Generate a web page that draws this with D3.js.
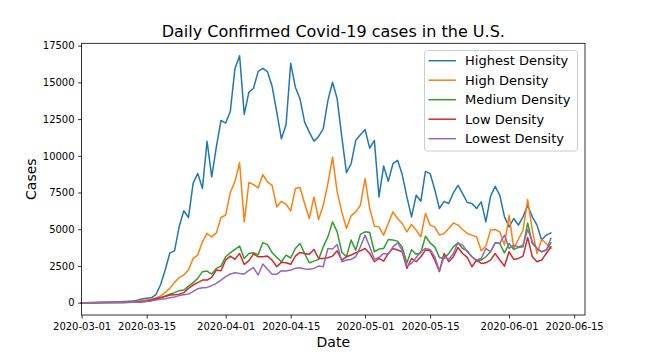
<!DOCTYPE html>
<html>
<head>
<meta charset="utf-8">
<script src="https://cdn.jsdelivr.net/npm/d3@7"></script>
<style>
  body { margin: 0; background: #fff; }
  svg { font-family: 'DejaVu Sans', sans-serif; display: block; }
</style>
</head>
<body>
<div id="chart"></div>
<script>
// daily values from 2020-03-01 to 2020-06-10
const startDate = '2020-03-01';
const endDate = '2020-06-11';
const xLimits = ['2020-03-01', '2020-06-17T08:00:00Z'];
const tickDates = ['2020-03-01', '2020-03-15', '2020-04-01', '2020-04-15', '2020-05-01', '2020-05-15', '2020-06-01', '2020-06-15'];
const yTicks = [0, 2500, 5000, 7500, 10000, 12500, 15000, 17500];

const seriesNames = ['Highest Density', 'High Density', 'Medium Density', 'Low Density', 'Lowest Density'];
const seriesColors = ['#1f77b4', '#ff7f0e', '#2ca02c', '#d62728', '#9467bd'];

const highest = [
  0, 1, 2, 5, 10, 15, 25, 40, 50, 70, 90, 120, 160, 250, 300, 330,
  540, 1220, 2240, 3390, 3530, 5180, 6260, 5790, 8120, 8800, 7780, 10990, 8570, 10600,
  12410, 12230, 13020, 15920, 16820, 12820, 14330, 14600, 15750, 15960, 15730, 14730, 12970, 11160,
  12110, 16300, 14670, 13880, 12290, 11610, 11000, 11320, 11840, 13760, 15010, 13880, 11270, 8850,
  9460, 11050, 11430, 11790, 10520, 11050, 7200, 9300, 8260, 9460, 9690, 8720, 7200, 5840,
  7310, 6900, 8940, 8790, 7700, 6410, 6900, 6750, 7470, 7990, 7430, 6820, 6750, 6410,
  6860, 5500, 7240, 7920, 7310, 5840, 5160, 5730, 5280, 5840, 6630, 5840, 5280, 4260, 4600, 4750
];
const high = [
  0, 0, 1, 2, 4, 8, 12, 18, 25, 35, 50, 70, 100, 140, 180, 230,
  300, 450, 700, 980, 1380, 1700, 1880, 2220, 3010, 3240, 4140, 4710, 4480, 4750,
  5800, 5960, 7500, 8240, 9530, 5500, 8180, 8040, 7810, 8720, 8220, 7990, 6520, 6900,
  6700, 6250, 7770, 7840, 6750, 5730, 7200, 5660, 6630, 8110, 9910, 7540, 6180, 5050,
  5910, 6180, 6630, 8450, 6410, 5210, 5160, 4600, 5390, 6180, 5730, 5390, 4820, 5320,
  4940, 4480, 6070, 5280, 5160, 4600, 4710, 5050, 5430, 5280, 4980, 4710, 4600, 4480,
  3530, 3850, 4940, 4980, 4820, 3920, 5950, 3690, 4300, 4940, 7020, 4940, 3350, 4300, 4030, 3690
];
const medium = [
  0, 0, 0, 1, 2, 3, 5, 8, 10, 15, 20, 30, 40, 60, 100, 150,
  250, 340, 455, 570, 680, 815, 860, 1130, 1360, 1655, 2110, 2150, 1950, 2335,
  2490, 3125, 3395, 3625, 3850, 3010, 3350, 3395, 3270, 4090, 3950, 3400, 3080, 2785,
  3240, 3040, 3690, 4030, 3350, 2715, 2830, 2945, 3800, 4480, 5500, 4820, 3430, 3125,
  4260, 3580, 4650, 4820, 4780, 3465, 3650, 3690, 4300, 4260, 4190, 3780, 2700, 3600,
  3300, 3400, 4520, 4075, 3800, 3080, 3010, 3350, 3800, 4075, 3690, 3530, 3125, 2830,
  2900, 3125, 3465, 4075, 4030, 3395, 4030, 3625, 3760, 3800, 5430, 4030, 3690, 3465, 3580, 4075
];
const low = [
  0, 0, 0, 1, 2, 3, 5, 7, 10, 15, 20, 30, 45, 70, 110, 180,
  280, 340, 410, 520, 545, 570, 680, 975, 1200, 1360, 1540, 1540, 1720, 2220,
  2175, 2900, 3170, 2945, 3350, 2600, 2860, 3320, 3125, 3125, 3170, 2900, 2445, 2745,
  2720, 2610, 3170, 3420, 3350, 3290, 3625, 3010, 3010, 3060, 3170, 3530, 2900, 3125,
  3240, 3395, 3530, 3690, 3350, 2785, 3010, 2830, 3350, 3690, 3580, 3465, 2335, 3010,
  2785, 3125, 3580, 3530, 2900, 2110, 3350, 2785, 3125, 3760, 3350, 3080, 2445, 2900,
  2670, 2715, 2900, 3350, 2900, 2490, 3465, 2945, 3010, 3170, 4440, 3125, 2785, 2900, 3350, 3800
];
const lowest = [
  0, 0, 0, 1, 1, 2, 3, 5, 7, 10, 15, 20, 30, 50, 80, 120,
  180, 230, 270, 340, 390, 480, 545, 590, 750, 950, 1020, 1040, 1155, 1310,
  1540, 1770, 1950, 2040, 1990, 1950, 2200, 2380, 1880, 2630, 2270, 1930, 1930, 2175,
  2150, 2220, 2335, 2380, 2290, 2270, 2335, 2490, 2445, 3690, 3650, 3965, 2785, 2900,
  2945, 3125, 3800, 4600, 3800, 2945, 3080, 3350, 3305, 3800, 4075, 3580, 2490, 2670,
  3080, 3465, 3690, 3625, 3125, 2175, 3125, 2945, 3350, 4075, 3920, 3465, 3125, 2900,
  3010, 3690, 3465, 4075, 4030, 4600, 3690, 3920, 3800, 3920, 4980, 4140, 3690, 3465, 3580, 4370
];

const seriesValues = [highest, high, medium, low, lowest];

let width = 648;
let height = 360;
let margin = { top: 43.3, right: 63, bottom: 45, left: 81.6 };
let innerW = width - margin.left - margin.right;
let innerH = height - margin.top - margin.bottom;

let dates = d3.utcDay.range(new Date(startDate), new Date(endDate));

let svg = d3.select('#chart').append('svg')
  .attr('width', width)
  .attr('height', height);

let g = svg.append('g')
  .attr('transform', `translate(${margin.left},${margin.top})`);

let x = d3.scaleUtc()
  .domain(xLimits.map(s => new Date(s)))
  .range([0, innerW]);

// matplotlib-style 5% margin on y
let yMax = d3.max(seriesValues, s => d3.max(s));
let y = d3.scaleLinear()
  .domain([-0.05 * yMax, 1.05 * yMax])
  .range([innerH, 0]);

let line = d3.line()
  .x((d, i) => x(dates[i]))
  .y(d => y(d));

g.append('g').selectAll('path')
  .data(seriesValues)
  .enter().append('path')
    .attr('d', line)
    .attr('fill', 'none')
    .attr('stroke', (d, i) => seriesColors[i])
    .attr('stroke-width', 1.5)
    .attr('stroke-linejoin', 'round')
    .attr('stroke-linecap', 'square');

// axes
let fmt = d3.utcFormat('%Y-%m-%d');
let xAxis = g.append('g')
  .attr('transform', `translate(0,${innerH})`)
  .call(d3.axisBottom(x)
    .tickValues(tickDates.map(s => new Date(s)))
    .tickFormat(fmt)
    .tickSize(3.5)
    .tickPadding(3.5));

let yAxis = g.append('g')
  .call(d3.axisLeft(y)
    .tickValues(yTicks)
    .tickFormat(d3.format('d'))
    .tickSize(3.5)
    .tickPadding(3.5));

[xAxis, yAxis].forEach(a => {
  a.select('.domain').remove();
  a.selectAll('.tick line').attr('stroke', '#000').attr('stroke-width', 0.8);
  a.selectAll('.tick text')
    .attr('fill', '#000')
    .style('font-size', '10px')
    .style('font-family', 'DejaVu Sans, sans-serif');
});
xAxis.selectAll('.tick text').attr('dy', '0.76em');

g.append('rect')
  .attr('width', innerW)
  .attr('height', innerH)
  .attr('fill', 'none')
  .attr('stroke', '#000')
  .attr('stroke-width', 0.8);

// labels
svg.append('text')
  .attr('x', margin.left + innerW / 2)
  .attr('y', margin.top - 6)
  .attr('text-anchor', 'middle')
  .style('font-size', '16px')
  .text('Daily Confirmed Covid-19 cases in the U.S.');

svg.append('text')
  .attr('x', margin.left + innerW / 2)
  .attr('y', 347)
  .attr('text-anchor', 'middle')
  .style('font-size', '14px')
  .text('Date');

svg.append('text')
  .attr('transform', `translate(36,${margin.top + innerH / 2}) rotate(-90)`)
  .attr('text-anchor', 'middle')
  .style('font-size', '14px')
  .text('Cases');

// legend
let legend = svg.append('g')
  .attr('transform', 'translate(424.5,50.5)');

legend.append('rect')
  .attr('width', 153)
  .attr('height', 100.5)
  .attr('rx', 3)
  .attr('fill', '#fff')
  .attr('fill-opacity', 0.8)
  .attr('stroke', '#cccccc')
  .attr('stroke-width', 1);

let items = legend.selectAll('.item')
  .data(seriesNames)
  .enter().append('g')
    .attr('class', 'item')
    .attr('transform', (d, i) => `translate(0,${10.2 + i * 19.5})`);

items.append('line')
  .attr('x1', 4)
  .attr('x2', 31.5)
  .attr('stroke', (d, i) => seriesColors[i])
  .attr('stroke-width', 1.5);

items.append('text')
  .attr('x', 40.5)
  .attr('dy', '0.36em')
  .style('font-size', '13px')
  .text(d => d);
</script>
</body>
</html>
